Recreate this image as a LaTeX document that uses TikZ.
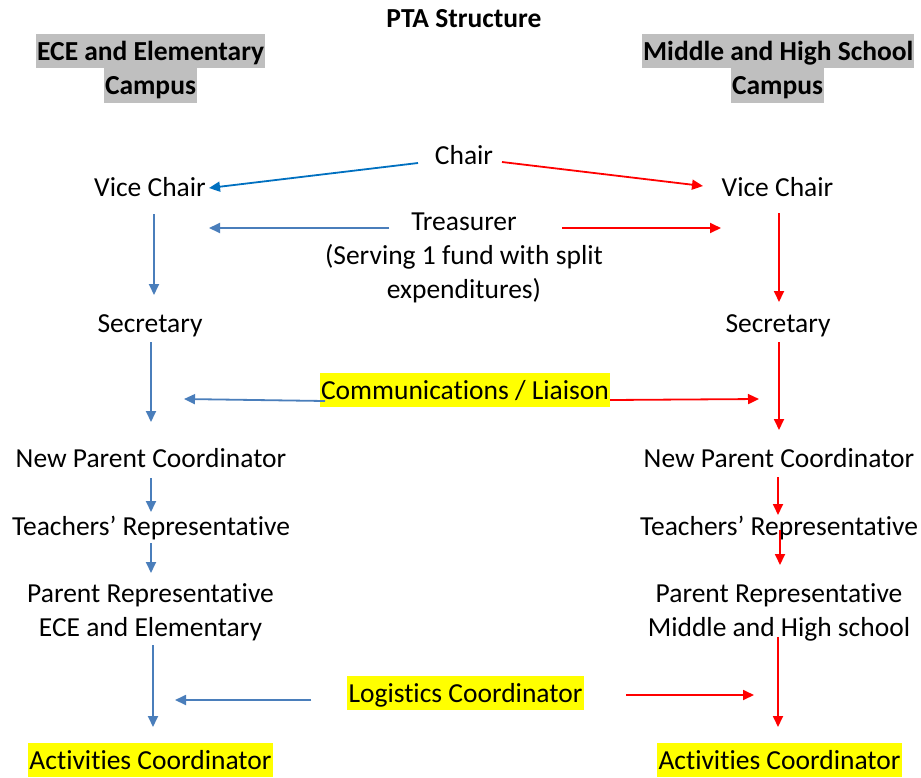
\documentclass[tikz,border=0pt]{standalone}
\usepackage{fontspec}
\setmainfont{Carlito}[Ligatures=NoCommon]
\usetikzlibrary{arrows.meta}

\definecolor{hlgray}{RGB}{191,191,191}
\definecolor{hlyellow}{RGB}{255,255,0}
\definecolor{chairblue}{RGB}{0,112,192}
\definecolor{campusblue}{RGB}{74,126,187}
\definecolor{campusred}{RGB}{255,0,0}

% one line of text: 27.5pt type on a 34pt line
\newcommand\basefont{\fontsize{27.5pt}{34pt}\selectfont}
\newcommand\lnstrut{\rule[-7.34pt]{0pt}{33.34pt}}

\begin{document}
\begin{tikzpicture}[x=1pt,y=-1pt,
  every node/.style={font=\basefont, inner sep=0pt},
  role/.style={text height=26pt, text depth=7.34pt},
  stack/.style={align=center},
  hilite/.style={role, fill=hlyellow, inner xsep=1.5pt},
  campus/.style={role, fill=hlgray, font={\basefont\bfseries}, inner xsep=1pt, inner ysep=0.4pt},
  link/.style={line width=1.8pt, -{Triangle[length=11pt,width=10pt]}},
  leftlink/.style={link, draw=campusblue, fill=campusblue},
  rightlink/.style={link, draw=campusred, fill=campusred},
  chairlink/.style={link, draw=chairblue, fill=chairblue}
]
\path[use as bounding box, fill=white] (0,0) rectangle (921,777);

% title and campus headings
\node[role, font={\basefont\bfseries}] (title) at (464,18) {PTA Structure};
\node[campus, anchor=west] (ecehead) at (36,51) {ECE and Elementary\hspace{0.226em}};
\node[campus] (ececampus) at (150.5,85.5) {Campus};
\node[campus, anchor=west] (mshead) at (642,51) {Middle and High School\hspace{0.226em}};
\node[campus] (mscampus) at (777.5,85.5) {Campus};

% shared officers in the middle
\node[role] (chair) at (464,155) {Chair};
\node[stack] (tre) at (464,255) {\lnstrut Treasurer\\\lnstrut(Serving 1 fund with split\\\lnstrut expenditures)};
\node[hilite] (comm) at (465,390) {Communications / Liaison};
\node[hilite] (logi) at (465.5,693) {Logistics Coordinator};

% ECE and Elementary column
\node[role] (vcL) at (150,187) {Vice Chair};
\node[role] (secL) at (150,323) {Secretary};
\node[role] (npcL) at (151,458) {New Parent Coordinator};
\node[role] (trL) at (151,526) {Teachers’ Representative};
\node[stack] (prL) at (150.5,610) {\lnstrut Parent Representative\\\lnstrut ECE and Elementary};
\node[hilite] (acL) at (150.5,760) {Activities Coordinator};

% Middle and High School column
\node[role] (vcR) at (777.5,187) {Vice Chair};
\node[role] (secR) at (778,323) {Secretary};
\node[role] (npcR) at (779,458) {New Parent Coordinator};
\node[role] (trR) at (779,526) {Teachers’ Representative};
\node[stack] (prR) at (779,610) {\lnstrut Parent Representative\\\lnstrut Middle and High school};
\node[hilite] (acR) at (779.5,760) {Activities Coordinator};

% free ends of the connectors
\coordinate (chairL0) at (418,163);  \coordinate (chairL1) at (209,188);
\coordinate (chairR0) at (502,162);  \coordinate (chairR1) at (703,186);
\coordinate (treL0) at (389,228);    \coordinate (treL1) at (209,228);
\coordinate (treR0) at (562,228);    \coordinate (treR1) at (721,228);
\coordinate (commL0) at (325,401);   \coordinate (commL1) at (184,399);
\coordinate (commR0) at (610,400);   \coordinate (commR1) at (759,399);
\coordinate (logiL0) at (311,700);   \coordinate (logiL1) at (175,700);
\coordinate (logiR0) at (626,695);   \coordinate (logiR1) at (754,695);

\coordinate (vcL0) at (154,214);  \coordinate (vcL1) at (154,295);
\coordinate (secL0) at (151,342); \coordinate (secL1) at (151,422);
\coordinate (npcL0) at (151,478); \coordinate (npcL1) at (151,512);
\coordinate (trL0) at (151,543);  \coordinate (trL1) at (151,573);
\coordinate (prL0) at (153,645);  \coordinate (prL1) at (153,727);

\coordinate (vcR0) at (779,213);  \coordinate (vcR1) at (779,302);
\coordinate (secR0) at (779,342); \coordinate (secR1) at (779,430);
\coordinate (npcR0) at (778,477); \coordinate (npcR1) at (778,515);
\coordinate (trR0) at (780,530);  \coordinate (trR1) at (780,565);
\coordinate (prR0) at (778,637);  \coordinate (prR1) at (778,727);

% shared officers to each campus
\draw[chairlink] (chairL0) -- (chairL1);
\draw[rightlink] (chairR0) -- (chairR1);
\draw[leftlink] (treL0) -- (treL1);
\draw[rightlink] (treR0) -- (treR1);
\draw[leftlink] (commL0) -- (commL1);
\draw[rightlink] (commR0) -- (commR1);
\draw[leftlink] (logiL0) -- (logiL1);
\draw[rightlink] (logiR0) -- (logiR1);

% down each campus column
\draw[leftlink] (vcL0) -- (vcL1);
\draw[leftlink] (secL0) -- (secL1);
\draw[leftlink] (npcL0) -- (npcL1);
\draw[leftlink] (trL0) -- (trL1);
\draw[leftlink] (prL0) -- (prL1);

\draw[rightlink] (vcR0) -- (vcR1);
\draw[rightlink] (secR0) -- (secR1);
\draw[rightlink] (npcR0) -- (npcR1);
\draw[rightlink] (trR0) -- (trR1);
\draw[rightlink] (prR0) -- (prR1);
\end{tikzpicture}
\end{document}
